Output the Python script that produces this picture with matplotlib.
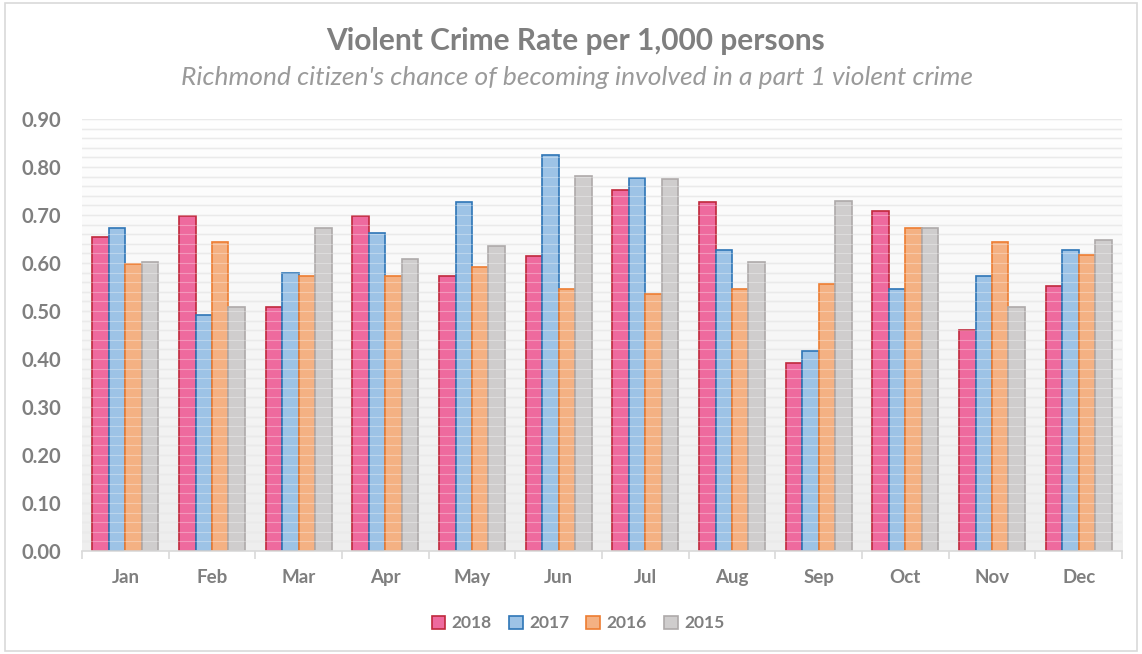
import numpy as np
import matplotlib
matplotlib.use("Agg")
import matplotlib.pyplot as plt
from matplotlib.patches import Rectangle
from matplotlib.ticker import FixedLocator, NullFormatter
from matplotlib.colors import LinearSegmentedColormap

months = ["Jan", "Feb", "Mar", "Apr", "May", "Jun", "Jul", "Aug", "Sep", "Oct", "Nov", "Dec"]
series_names = ["2018", "2017", "2016", "2015"]
v2018 = [0.655, 0.697, 0.509, 0.697, 0.573, 0.615, 0.753, 0.726, 0.392, 0.708, 0.460, 0.552]
v2017 = [0.672, 0.492, 0.580, 0.662, 0.726, 0.825, 0.778, 0.626, 0.417, 0.545, 0.573, 0.626]
v2016 = [0.598, 0.644, 0.573, 0.573, 0.591, 0.545, 0.535, 0.545, 0.556, 0.672, 0.644, 0.616]
v2015 = [0.601, 0.509, 0.672, 0.608, 0.636, 0.782, 0.775, 0.601, 0.729, 0.672, 0.509, 0.647]
yticks = [0.0, 0.1, 0.2, 0.3, 0.4, 0.5, 0.6, 0.7, 0.8, 0.9]

fills = ["#EE6A9E", "#9DC3E6", "#F4B183", "#CFCDCD"]
edges = ["#C0283C", "#2E75B6", "#ED7D31", "#AEAAAA"]
txt = "#7F7F7F"
FONT = ["Lato", "DejaVu Sans"]

fig = plt.figure(figsize=(11.42, 6.54), dpi=100)
fig.patch.set_facecolor("white")

# outer chart border
fig.add_artist(Rectangle((0.004, 0.004), 0.992, 0.992, transform=fig.transFigure,
                         fill=False, edgecolor="#D9D9D9", lw=1.2))

ax = fig.add_axes([0.0718, 0.1575, 0.9107, 0.6606])
ax.set_xlim(0, 12)
ax.set_ylim(0, 0.9)

# background gradient: white at top, light grey at bottom
grad = np.linspace(0, 1, 256).reshape(-1, 1)
cmap = LinearSegmentedColormap.from_list("bg", ["#FFFFFF", "#EEEEEE"])
ax.imshow(grad, extent=[0, 12, 0, 0.9], aspect="auto", cmap=cmap, vmin=0, vmax=1,
          zorder=0, origin="upper")
ax.set_facecolor("white")

# gridlines
for y in np.arange(0.02, 0.9001, 0.02):
    ax.axhline(y, color="#E2E2E2", lw=1.0, zorder=1)

x = np.arange(12) + 0.5
w = 0.19
data = [v2018, v2017, v2016, v2015]
handles = []
for i, (vals, name) in enumerate(zip(data, series_names)):
    off = (i - 1.5) * w
    b = ax.bar(x + off, vals, width=w, color=fills[i], edgecolor=edges[i], lw=1.2,
               zorder=2, label=name)
    handles.append(b)

# faint lighter gridlines over bars
for y in np.arange(0.02, 0.9001, 0.02):
    ax.axhline(y, color="white", lw=0.8, alpha=0.3, zorder=3)

for s in ["top", "right", "left"]:
    ax.spines[s].set_visible(False)
ax.spines["bottom"].set_color("#D9D9D9")
ax.spines["bottom"].set_linewidth(1.2)
ax.spines["bottom"].set_zorder(4)

ax.xaxis.set_major_locator(FixedLocator(np.arange(0, 13)))
ax.xaxis.set_major_formatter(NullFormatter())
ax.xaxis.set_minor_locator(FixedLocator(x))
ax.set_xticklabels(months, minor=True)
ax.tick_params(axis="x", which="major", length=6, width=1.2, color="#D9D9D9")
ax.tick_params(axis="x", which="minor", length=0, pad=13)
for lab in ax.get_xticklabels(minor=True):
    lab.set_fontfamily(FONT)
    lab.set_fontweight("bold")
    lab.set_fontsize(13.5)
    lab.set_color(txt)

ax.set_yticks(yticks)
ax.set_yticklabels([f"{v:.2f}" for v in yticks])
ax.tick_params(axis="y", length=0, pad=15)
for lab in ax.get_yticklabels():
    lab.set_fontfamily(FONT)
    lab.set_fontweight("bold")
    lab.set_fontsize(14.5)
    lab.set_color(txt)

fig.text(0.504, 0.938, "Violent Crime Rate per 1,000 persons", ha="center", va="center",
         fontsize=21.5, fontweight="bold", color=txt, family=FONT)
fig.text(0.505, 0.882, "Richmond citizen's chance of becoming involved in a part 1 violent crime",
         ha="center", va="center", fontsize=19, style="italic", color="#9A9A9A", family=FONT)

leg = fig.legend(handles=handles, labels=series_names, loc="center", bbox_to_anchor=(0.506, 0.047),
                 ncol=4, frameon=False, handlelength=0.8, handleheight=0.8, handletextpad=0.35,
                 columnspacing=1.0, prop={"family": FONT, "weight": "bold", "size": 12.5})
for t in leg.get_texts():
    t.set_color(txt)

fig.savefig("out.png", dpi=100)
